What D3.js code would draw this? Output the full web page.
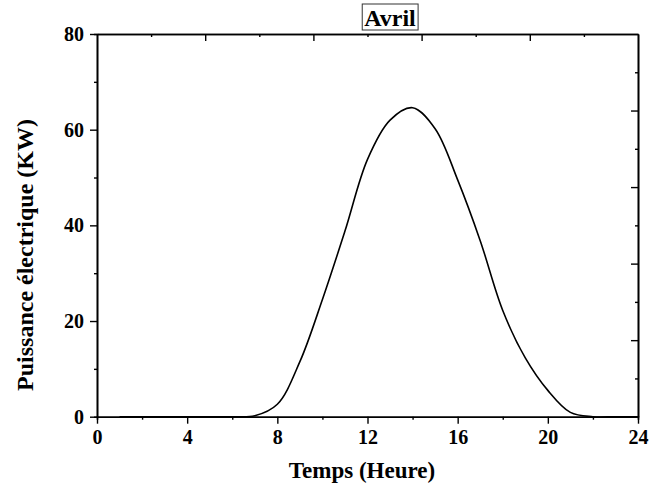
<!DOCTYPE html>
<html>
<head>
<meta charset="utf-8">
<script src="https://cdn.jsdelivr.net/npm/d3@7/dist/d3.min.js"></script>
<style>
  html, body { margin: 0; padding: 0; background: #fff; }
  svg { display: block; }
  text { font-family: "Liberation Serif", "Times New Roman", serif; font-weight: bold; fill: #000; }
</style>
</head>
<body>
<svg id="chart" width="665" height="488"></svg>
<script>
// Hourly electrical power output (kW) for April
const hours = [1, 2, 3, 4, 5, 6, 7, 8, 9, 10, 11, 12, 13, 14, 15, 16, 17, 18, 19, 20, 21, 22, 23, 24];
const power = [0, 0, 0, 0, 0, 0, 0.2, 2.6, 11.5, 24.5, 38.8, 53.8, 62.0, 64.6, 60.2, 49.5, 36.8, 22.2, 12.3, 5.5, 0.9, 0, 0, 0];

const xMajorTicks = [0, 4, 8, 12, 16, 20, 24];
const xMinorTicks = [2, 6, 10, 14, 18, 22];
const yMajorTicks = [0, 20, 40, 60, 80];
const yMinorTicks = [10, 30, 50, 70];
// opposite (top/right) frame axes carry ten divisions without labels
const frameMajorTicks = [2, 4, 6, 8];
const frameMinorTicks = [1, 3, 5, 7, 9];

const titleText = "Avril";
const xLabel = "Temps (Heure)";
const yLabel = "Puissance électrique (KW)";

const svg = d3.select("#chart");
const plotLeft = 97, plotRight = 638, plotTop = 34, plotBottom = 416.7;

const x = d3.scaleLinear().domain([0, 24]).range([plotLeft, plotRight]);
const y = d3.scaleLinear().domain([0, 80]).range([plotBottom, plotTop]);
const fx = d3.scaleLinear().domain([0, 10]).range([plotLeft, plotRight]);
const fy = d3.scaleLinear().domain([0, 10]).range([plotTop, plotBottom]);

function styleAxis(g) {
  g.selectAll(".domain").attr("stroke", "#000").attr("stroke-width", 1.6);
  g.selectAll(".tick line").attr("stroke", "#000").attr("stroke-width", 1.4);
  g.selectAll(".tick text").style("font-size", "20px");
}

const line = d3.line()
  .x((d, i) => x(hours[i]))
  .y(d => y(Math.max(0, d)))
  .curve(d3.curveCatmullRom.alpha(0.5));

// bottom axis
svg.append("g").attr("transform", `translate(0,${plotBottom})`)
  .call(d3.axisBottom(x).tickValues(xMinorTicks).tickSize(3).tickFormat(""))
  .call(styleAxis);
svg.append("g").attr("transform", `translate(0,${plotBottom})`)
  .call(d3.axisBottom(x).tickValues(xMajorTicks).tickSize(7).tickPadding(6).tickSizeOuter(0))
  .call(styleAxis);

// left axis
svg.append("g").attr("transform", `translate(${plotLeft},0)`)
  .call(d3.axisLeft(y).tickValues(yMinorTicks).tickSize(3).tickFormat(""))
  .call(styleAxis);
svg.append("g").attr("transform", `translate(${plotLeft},0)`)
  .call(d3.axisLeft(y).tickValues(yMajorTicks).tickSize(7).tickPadding(6).tickSizeOuter(0))
  .call(styleAxis);

// top frame axis (ticks pointing inward)
svg.append("g").attr("transform", `translate(0,${plotTop})`)
  .call(d3.axisTop(fx).tickValues(frameMinorTicks).tickSize(-3).tickFormat("").tickSizeOuter(0))
  .call(styleAxis);
svg.append("g").attr("transform", `translate(0,${plotTop})`)
  .call(d3.axisTop(fx).tickValues(frameMajorTicks).tickSize(-7).tickFormat("").tickSizeOuter(0))
  .call(styleAxis);

// right frame axis (ticks pointing inward)
svg.append("g").attr("transform", `translate(${plotRight},0)`)
  .call(d3.axisRight(fy).tickValues(frameMinorTicks).tickSize(-3).tickFormat("").tickSizeOuter(0))
  .call(styleAxis);
svg.append("g").attr("transform", `translate(${plotRight},0)`)
  .call(d3.axisRight(fy).tickValues(frameMajorTicks).tickSize(-7).tickFormat("").tickSizeOuter(0))
  .call(styleAxis);

// clip so the spline never dips beneath the zero line
svg.append("clipPath").attr("id", "plot-clip")
  .append("rect")
  .attr("x", plotLeft).attr("y", plotTop)
  .attr("width", plotRight - plotLeft).attr("height", plotBottom - plotTop + 0.8);

svg.append("path")
  .datum(power)
  .attr("d", line)
  .attr("clip-path", "url(#plot-clip)")
  .attr("fill", "none")
  .attr("stroke", "#000")
  .attr("stroke-width", 1.6);

// title in a box
const titleG = svg.append("g");
const titleRect = titleG.append("rect");
const tTitle = titleG.append("text")
  .attr("x", 390).attr("y", 26)
  .attr("text-anchor", "middle")
  .style("font-size", "24px")
  .text(titleText);
const bb = tTitle.node().getBBox();
titleRect
  .attr("x", bb.x - 2).attr("y", 4)
  .attr("width", bb.width + 4).attr("height", 26)
  .attr("fill", "#fff").attr("stroke", "#333").attr("stroke-width", 1);

// axis titles
svg.append("text")
  .attr("x", 362).attr("y", 478)
  .attr("text-anchor", "middle")
  .style("font-size", "23px")
  .text(xLabel);

svg.append("text")
  .attr("transform", `translate(33,255) rotate(-90)`)
  .attr("text-anchor", "middle")
  .style("font-size", "24px")
  .text(yLabel);
</script>
</body>
</html>
